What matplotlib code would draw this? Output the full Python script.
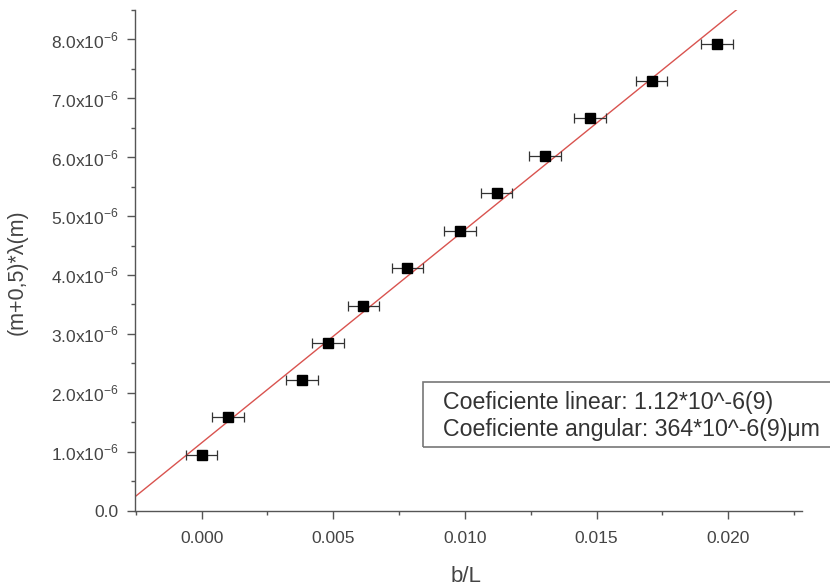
import matplotlib.pyplot as plt
import numpy as np
from matplotlib.ticker import MultipleLocator, FuncFormatter
from matplotlib.patches import Rectangle

plt.rcParams['font.family'] = ['Liberation Sans', 'DejaVu Sans']
plt.rcParams['mathtext.fontset'] = 'custom'
plt.rcParams['mathtext.rm'] = 'Liberation Sans'

# data
b_L = [0.0, 0.00101, 0.00380, 0.00479, 0.00614, 0.00781,
       0.00981, 0.01120, 0.01304, 0.01475, 0.01709, 0.01956]
m_lambda = [0.94e-6, 1.58e-6, 2.21e-6, 2.85e-6, 3.47e-6, 4.11e-6,
            4.75e-6, 5.40e-6, 6.02e-6, 6.66e-6, 7.29e-6, 7.92e-6]
x_err = 0.0006

# linear fit shown as red line
fit_slope = 3.62e-4
fit_intercept = 1.15e-6

box_lines = ['Coeficiente linear: 1.12*10^-6(9)',
             'Coeficiente angular: 364*10^-6(9)\u03bcm']

fig = plt.figure(figsize=(8.3, 5.87), dpi=100)
ax = fig.add_axes([0.1627, 0.1303, 0.8036, 0.8527])

xlim = (-0.00253, 0.0228)
xs = np.array(xlim)
ax.plot(xs, fit_intercept + fit_slope * xs, color='#d9534f', lw=1.0, zorder=1)

ax.errorbar(b_L, m_lambda, xerr=x_err, fmt='s', color='black', ms=7,
            ecolor='#333333', elinewidth=0.9, capsize=3.5, capthick=0.9, zorder=3)

ax.set_xlim(*xlim)
ax.set_ylim(0, 8.5e-6)

for side in ['top', 'right']:
    ax.spines[side].set_visible(False)
for side in ['left', 'bottom']:
    ax.spines[side].set_color('#555555')
    ax.spines[side].set_linewidth(1.0)

ax.xaxis.set_major_locator(MultipleLocator(0.005))
ax.xaxis.set_minor_locator(MultipleLocator(0.0025))
ax.yaxis.set_major_locator(MultipleLocator(1e-6))
ax.yaxis.set_minor_locator(MultipleLocator(0.5e-6))

ax.xaxis.set_major_formatter(FuncFormatter(lambda v, p: f'{v:.3f}'))


def yfmt(v, p):
    if abs(v) < 1e-12:
        return '0.0'
    return f'{v * 1e6:.1f}x10$^{{\\mathregular{{-6}}}}$'


ax.yaxis.set_major_formatter(FuncFormatter(yfmt))

ax.tick_params(which='major', direction='out', length=6, width=1,
               color='#555555', labelcolor='#444444', labelsize=12.5, pad=6)
ax.tick_params(axis='x', which='major', pad=9)
ax.tick_params(which='minor', direction='out', length=3, width=1, color='#555555')

ax.set_xlabel('b/L', fontsize=16, color='#444444')
ax.set_ylabel('(m+0,5)*\u03bb(m)', fontsize=15.5, color='#444444')
ax.xaxis.set_label_coords(0.496, -0.11)
ax.yaxis.set_label_coords(-0.161, 0.477)

# text box, running off the right edge of the figure like in the original
rect = Rectangle((0.5096, 0.2385), 0.6, 0.1107, transform=fig.transFigure,
                 fill=False, edgecolor='#777777', lw=1.2, clip_on=False)
fig.patches.append(rect)
fig.text(0.5337, 0.3135, box_lines[0], fontsize=16.7, color='#333333', va='center')
fig.text(0.5337, 0.2675, box_lines[1], fontsize=16.7, color='#333333', va='center')

fig.savefig('out.png', dpi=100)
